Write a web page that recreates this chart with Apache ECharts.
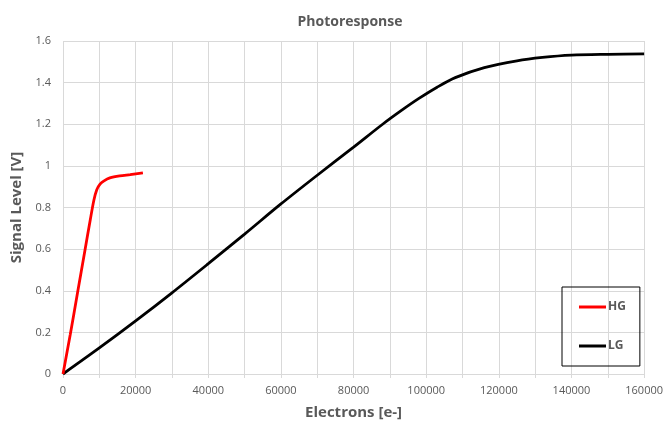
<!DOCTYPE html>
<html>
<head>
<meta charset="utf-8">
<script src="https://cdn.jsdelivr.net/npm/echarts@6/dist/echarts.min.js"></script>
<style>html,body{margin:0;padding:0;background:#fff;}#c{width:666px;height:427px;}</style>
</head>
<body>
<div id="c"></div>
<script>
var titleText = 'Photoresponse';
var xAxisName = 'Electrons [e-]';
var yAxisName = 'Signal Level [V]';
var seriesNames = ['HG', 'LG'];
var hgData = [[0,0],[2000,0.19],[4000,0.39],[6000,0.59],[7500,0.74],[8500,0.835],[9300,0.885],[10200,0.912],[11300,0.928],[12900,0.942],[15600,0.952],[18500,0.958],[22000,0.966]];
var lgData = [[0,0],[10000,0.125],[20000,0.255],[30000,0.39],[40000,0.53],[50000,0.672],[60000,0.817],[70000,0.955],[80000,1.09],[88000,1.2],[93000,1.264],[98000,1.324],[103000,1.378],[108000,1.424],[116000,1.472],[125000,1.505],[132000,1.521],[140000,1.532],[150000,1.536],[160000,1.538]];

var gray = '#595959';
var font = 'Open Sans';
var chart = echarts.init(document.getElementById('c'));
chart.setOption({
  animation: false,
  backgroundColor: '#fff',
  title: {
    text: titleText, left: 345, top: 10, textAlign: 'center',
    textStyle: {fontFamily: font, fontSize: 14, fontWeight: 'bold', color: gray}
  },
  legend: {
    orient: 'vertical', left: 562, top: 287, width: 79, height: 79,
    padding: [13, 14, 13, 17], itemGap: 25, itemWidth: 27, itemHeight: 3,
    icon: 'rect',
    borderColor: '#000', borderWidth: 1,
    textStyle: {fontFamily: font, fontSize: 12, lineHeight: 14, fontWeight: 'bold', color: gray, padding: [0,0,0,-3]},
    data: seriesNames
  },
  grid: {left: 63, right: 19.5, top: 41, bottom: 53, containLabel: false},
  xAxis: {
    type: 'value', min: 0, max: 160000, interval: 10000,
    name: xAxisName, nameLocation: 'middle', nameGap: 31,
    nameTextStyle: {fontFamily: font, fontSize: 15, fontWeight: 'bold', color: gray},
    axisLine: {show: true, lineStyle: {color: '#d9d9d9', width: 1}},
    axisTick: {show: true, length: 4, lineStyle: {color: '#d9d9d9'}},
    axisLabel: {fontFamily: font, fontSize: 11, color: gray, margin: 11,
      formatter: function(v){ return v % 20000 === 0 ? String(v) : ''; }},
    splitLine: {show: true, lineStyle: {color: '#d9d9d9', width: 1}}
  },
  yAxis: {
    type: 'value', min: 0, max: 1.6, interval: 0.2,
    name: yAxisName, nameLocation: 'middle', nameGap: 34,
    nameTextStyle: {fontFamily: font, fontSize: 15, fontWeight: 'bold', color: gray},
    axisLine: {show: false}, axisTick: {show: false},
    axisLabel: {fontFamily: font, fontSize: 11, color: gray, margin: 12,
      formatter: function(v){ return String(Math.round(v*10)/10); }},
    splitLine: {show: true, lineStyle: {color: '#d9d9d9', width: 1}}
  },
  series: [
    {name: seriesNames[0], type: 'line', data: hgData, symbol: 'none', smooth: 0.3,
     lineStyle: {color: '#ff0000', width: 2.8}, itemStyle: {color: '#ff0000'}, z: 3},
    {name: seriesNames[1], type: 'line', data: lgData, symbol: 'none', smooth: 0.3,
     lineStyle: {color: '#000000', width: 2.8}, itemStyle: {color: '#000000'}, z: 2}
  ]
});
</script>
</body>
</html>
